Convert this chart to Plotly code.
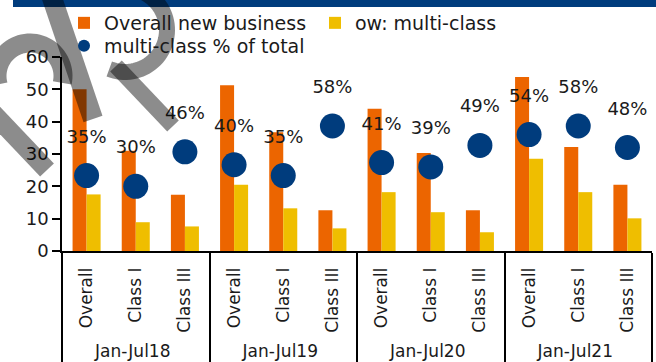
import numpy as np
import plotly.graph_objects as go

# ---- data -------------------------------------------------------------
periods = ["Jan-Jul18", "Jan-Jul19", "Jan-Jul20", "Jan-Jul21"]
classes = ["Overall", "Class I", "Class III"]
overall_new_business = [50.0, 31.0, 17.4, 51.3, 36.7, 12.6, 44.0, 30.3, 12.6, 53.8, 32.2, 20.5]
ow_multi_class = [17.5, 8.9, 7.6, 20.5, 13.2, 7.0, 18.2, 12.0, 5.8, 28.5, 18.2, 10.1]
multi_class_pct = [35, 30, 46, 40, 35, 58, 41, 39, 49, 54, 58, 48]

x_outer = [p for p in periods for _ in classes]
x_inner = [c for _ in periods for c in classes]
x_cat = [x_outer, x_inner]

ORANGE = "#EC6500"
YELLOW = "#EFBE00"
NAVY = "#003C7D"
FONT = "DejaVu Sans"

W, H = 656, 362
L, R, T, B = 62, 4, 57, 111


def px2paper(px, py):
    return (px - L) / (W - L - R), (H - B - py) / (H - T - B)


fig = go.Figure()
fig.add_trace(go.Bar(x=x_cat, y=overall_new_business, name="Overall new business",
                     marker=dict(color=ORANGE, line=dict(width=0)), legend="legend"))
fig.add_trace(go.Bar(x=x_cat, y=ow_multi_class, name="ow: multi-class",
                     marker=dict(color=YELLOW, line=dict(width=0)), legend="legend"))
fig.add_trace(go.Scatter(x=x_cat, y=multi_class_pct, yaxis="y2", mode="markers",
                         name="multi-class % of total",
                         marker=dict(color=NAVY, size=25), legend="legend2"))
# percentage labels sit above the dots; an invisible larger marker sets the gap
fig.add_trace(go.Scatter(x=x_cat, y=multi_class_pct, yaxis="y2", mode="markers+text",
                         text=[f"{v}%" for v in multi_class_pct], textposition="top center",
                         textfont=dict(family=FONT, size=18, color="#1a1a1a"),
                         marker=dict(size=44, opacity=0), showlegend=False, hoverinfo="skip"))

shapes = []
# navy band along the top edge
x0, y0 = px2paper(13, 0)
x1, y1 = px2paper(W, 7)
shapes.append(dict(type="rect", xref="paper", yref="paper", x0=x0, y0=y1, x1=x1, y1=y0 + 0.05,
                   fillcolor=NAVY, line=dict(width=0), layer="above"))


def stroke(points, width):
    pts = [px2paper(px, py) for px, py in points]
    path = "M " + " L ".join(f"{a:.5f},{b:.5f}" for a, b in pts)
    return dict(type="path", xref="paper", yref="paper", path=path,
                line=dict(color="rgba(0,0,0,0.45)", width=width), layer="above")


def arc(cx, cy, r, a0, a1):
    t = np.radians(np.linspace(a0, a1, 48))
    return list(zip(cx + r * np.cos(t), cy + r * np.sin(t)))


# faint logo strokes across the top-left corner
shapes.append(stroke([(50, -8), (93, 119)], 20))
shapes.append(stroke(arc(125, 30, 42, -75, 112), 16))
shapes.append(stroke([(116, 66), (173, 126)], 16))
shapes.append(stroke(arc(30, 76, 33, 165, 372), 19))
shapes.append(stroke([(-8, 112), (47, 170)], 19))

lx, ly1 = px2paper(64, 4)
_, ly2 = px2paper(64, 27)
legend_common = dict(orientation="h", xanchor="left", yanchor="top",
                     font=dict(family=FONT, size=19), bgcolor="rgba(0,0,0,0)",
                     itemsizing="constant", tracegroupgap=0)

fig.update_layout(
    width=W, height=H,
    margin=dict(l=L, r=R, t=T, b=B, autoexpand=False),
    paper_bgcolor="white", plot_bgcolor="white",
    font=dict(family=FONT, size=18, color="#1a1a1a"),
    barmode="group", bargap=0.43, bargroupgap=0,
    showlegend=True,
    legend=dict(x=lx, y=ly1, entrywidth=206, entrywidthmode="pixels", **legend_common),
    legend2=dict(x=lx, y=ly2, **legend_common),
    xaxis=dict(type="multicategory", range=[-0.5, 11.5], showline=True, linecolor="black",
               linewidth=1.5, tickangle=-90, ticks="", tickfont=dict(family=FONT, size=17),
               ticklabelstandoff=8,
               showdividers=True, dividercolor="black", dividerwidth=1.5,
               showgrid=False, zeroline=False),
    yaxis=dict(range=[0, 60], tickvals=[0, 10, 20, 30, 40, 50, 60], showline=True,
               linecolor="black", linewidth=1.5, ticks="outside", ticklen=8,
               tickcolor="black", tickwidth=1.5, showgrid=False, zeroline=False,
               tickfont=dict(family=FONT, size=18)),
    yaxis2=dict(range=[0, 90], overlaying="y", side="right", visible=False),
    shapes=shapes,
)

fig.write_html("out.html")
